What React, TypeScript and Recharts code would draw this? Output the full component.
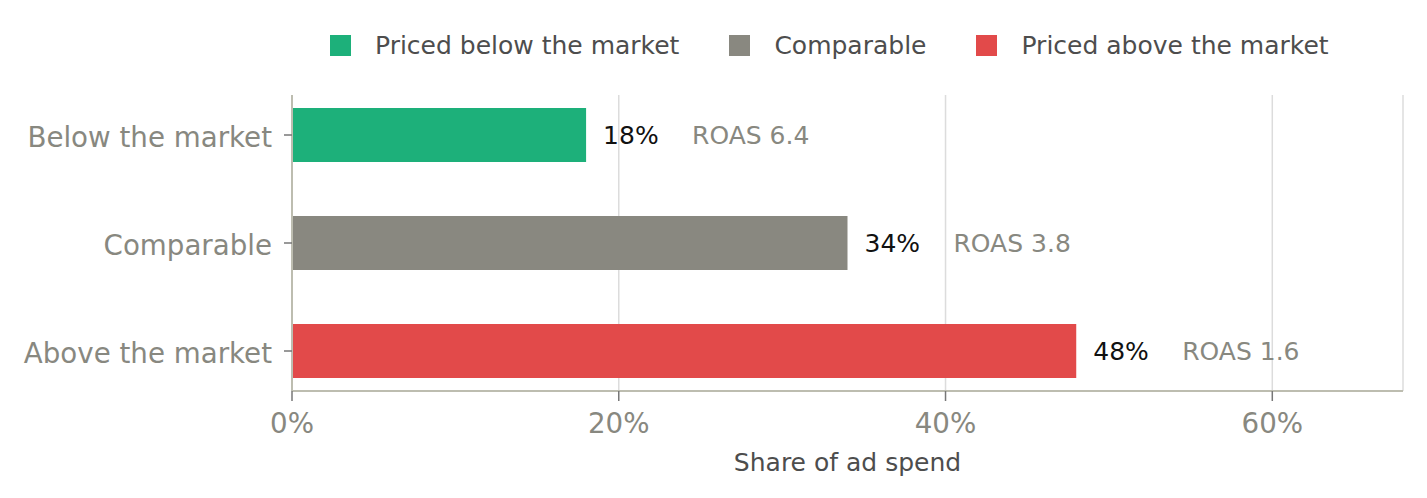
import React from "react";
import { Bar, BarChart, CartesianGrid, Cell, LabelList, XAxis, YAxis } from "recharts";

const categories = ["Below the market", "Comparable", "Above the market"];
const shareValues = [18, 34, 48];
const roasValues = [6.4, 3.8, 1.6];
const legendLabels = ["Priced below the market", "Comparable", "Priced above the market"];
const xTicks = [0, 20, 40, 60];

const COLORS = ["#1db07a", "#898880", "#e24a4a"];
const FONT = "'DejaVu Sans', sans-serif";
const SPINE = "#bdbdb0";
const TICK_TEXT = "#888880";
const DARK_TEXT = "#4d4d4d";
const TICK_FONT = 27.7;
const SMALL_FONT = 25;

const data = categories.map((name, i) => ({
  name,
  share: shareValues[i],
  roas: roasValues[i],
}));

function BarLabel(props: any) {
  const { x, y, width, height, index } = props;
  const endX = x + width;
  const cy = y + height / 2;
  return (
    <g>
      <text x={endX + 17} y={cy} dy="0.36em" fontSize={SMALL_FONT} fill="#111" fontFamily={FONT}>
        {`${shareValues[index]}%`}
      </text>
      <text x={endX + 106} y={cy} dy="0.36em" fontSize={SMALL_FONT} fill={TICK_TEXT} fontFamily={FONT}>
        {`ROAS ${roasValues[index].toFixed(1)}`}
      </text>
    </g>
  );
}

function CategoryTick(props: any) {
  const { x, y, payload } = props;
  return (
    <text
      x={x}
      y={y + 2}
      dy="0.36em"
      textAnchor="end"
      fontSize={TICK_FONT}
      fill={TICK_TEXT}
      fontFamily={FONT}
    >
      {payload.value}
    </text>
  );
}

function LegendRow() {
  return (
    <div
      style={{
        position: "absolute",
        left: 330,
        top: 35,
        display: "flex",
        alignItems: "center",
        height: 21,
        fontFamily: FONT,
        fontSize: SMALL_FONT,
        color: DARK_TEXT,
        whiteSpace: "nowrap",
      }}
    >
      {legendLabels.map((label, i) => (
        <div key={label} style={{ display: "flex", alignItems: "center", marginRight: 50 }}>
          <span style={{ width: 21, height: 21, background: COLORS[i], marginRight: 24 }} />
          <span style={{ lineHeight: "21px" }}>{label}</span>
        </div>
      ))}
    </div>
  );
}

export default function App() {
  return (
    <div style={{ position: "absolute", left: 0, top: 0, width: 1427, height: 498, background: "#fff" }}>
      <BarChart
        width={1427}
        height={498}
        data={data}
        layout="vertical"
        margin={{ top: 95, right: 24, bottom: 0, left: 0 }}
      >
        <CartesianGrid horizontal={false} stroke="#dcdcdc" strokeWidth={1.5} />
        <XAxis
          type="number"
          domain={[0, 68]}
          ticks={xTicks}
          allowDataOverflow
          height={107}
          tickFormatter={(v) => `${v}%`}
          tick={{ fontSize: TICK_FONT, fill: TICK_TEXT, fontFamily: FONT }}
          tickSize={10}
          tickMargin={12}
          tickLine={{ stroke: "#777", strokeWidth: 1.5 }}
          axisLine={{ stroke: SPINE, strokeWidth: 2 }}
          label={{
            value: "Share of ad spend",
            position: "insideBottom",
            offset: 27,
            fill: DARK_TEXT,
            fontSize: SMALL_FONT,
            fontFamily: FONT,
          }}
        />
        <YAxis
          type="category"
          dataKey="name"
          width={292}
          padding={{ top: -14, bottom: -14 }}
          tick={<CategoryTick />}
          tickSize={8}
          tickMargin={12}
          tickLine={{ stroke: "#777", strokeWidth: 1.5 }}
          axisLine={{ stroke: SPINE, strokeWidth: 2 }}
        />
        <Bar dataKey="share" barSize={54} isAnimationActive={false}>
          {data.map((d, i) => (
            <Cell key={d.name} fill={COLORS[i]} />
          ))}
          <LabelList dataKey="share" content={<BarLabel />} />
        </Bar>
      </BarChart>
      <LegendRow />
    </div>
  );
}
